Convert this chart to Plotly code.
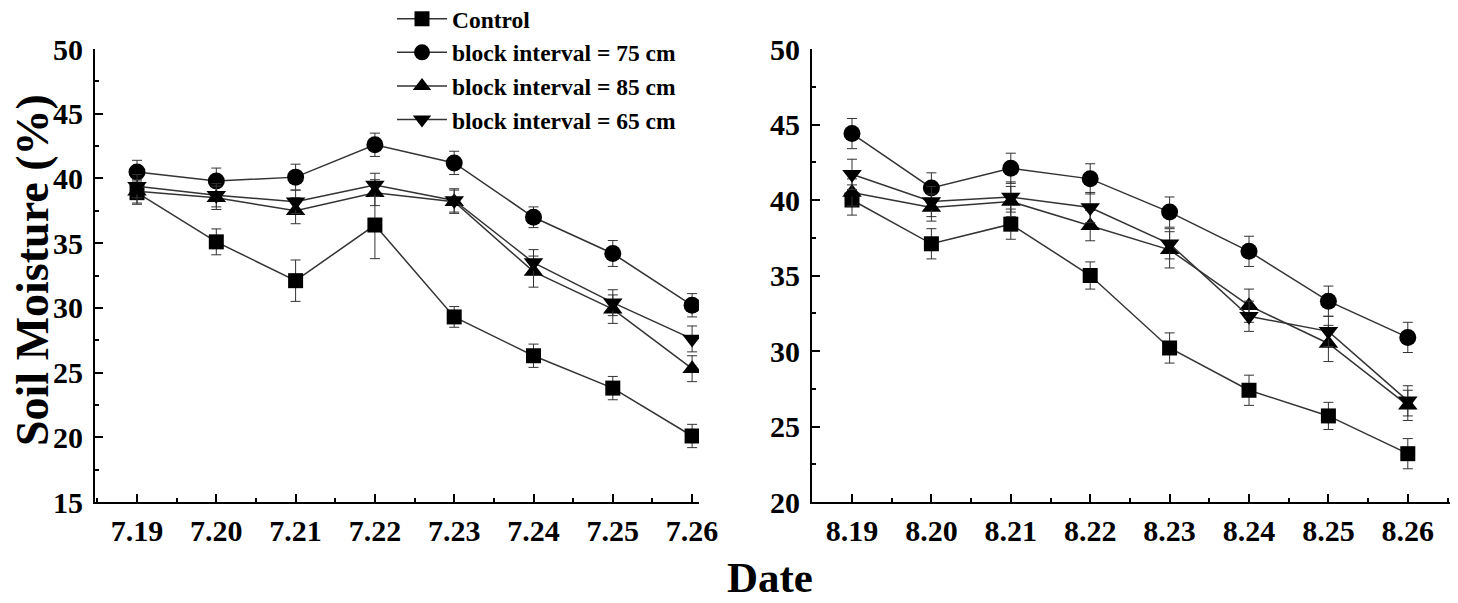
import plotly.graph_objects as go

# Page body adds an 8px offset; figure is sized to fit the 1458x603 window.
OFF = 8
W, H = 1458 - OFF, 603 - OFF

july_dates = ["7.19", "7.20", "7.21", "7.22", "7.23", "7.24", "7.25", "7.26"]
aug_dates = ["8.19", "8.20", "8.21", "8.22", "8.23", "8.24", "8.25", "8.26"]

series_names = ["Control", "block interval = 75 cm", "block interval = 85 cm", "block interval = 65 cm"]
symbols = ["square", "circle", "triangle-up", "triangle-down"]
sizes = [15, 17, 17, 17]

july_control = [38.9, 35.1, 32.1, 36.4, 29.3, 26.3, 23.8, 20.1]
july_control_err = [0.9, 1.0, 1.6, 2.6, 0.8, 0.9, 0.9, 0.9]
july_75 = [40.5, 39.8, 40.1, 42.6, 41.2, 37.0, 34.2, 30.2]
july_75_err = [0.9, 1.0, 1.0, 0.9, 0.9, 0.8, 1.0, 0.9]
july_85 = [39.0, 38.5, 37.5, 38.9, 38.2, 32.8, 29.9, 25.3]
july_85_err = [0.9, 0.9, 1.0, 1.0, 0.9, 1.2, 1.1, 1.0]
july_65 = [39.4, 38.7, 38.2, 39.5, 38.3, 33.5, 30.4, 27.6]
july_65_err = [0.9, 0.9, 0.9, 0.9, 0.9, 1.0, 1.0, 1.0]

aug_control = [40.0, 37.1, 38.4, 35.0, 30.2, 27.4, 25.7, 23.2]
aug_control_err = [1.0, 1.0, 1.0, 0.9, 1.0, 1.0, 0.9, 1.0]
aug_75 = [44.4, 40.8, 42.1, 41.4, 39.2, 36.6, 33.3, 30.9]
aug_75_err = [1.0, 1.0, 1.0, 1.0, 1.0, 1.0, 1.0, 1.0]
aug_85 = [40.5, 39.5, 39.9, 38.3, 36.7, 33.0, 30.5, 26.4]
aug_85_err = [0.9, 0.9, 1.0, 1.0, 1.2, 1.1, 1.2, 1.0]
aug_65 = [41.7, 39.9, 40.2, 39.5, 37.1, 32.3, 31.3, 26.7]
aug_65_err = [1.0, 1.0, 1.0, 1.0, 1.0, 1.0, 1.0, 1.0]

july_vals = [july_control, july_75, july_85, july_65]
july_errs = [july_control_err, july_75_err, july_85_err, july_65_err]
aug_vals = [aug_control, aug_75, aug_85, aug_65]
aug_errs = [aug_control_err, aug_75_err, aug_85_err, aug_65_err]

FONT = "Liberation Serif"
LINE = "#333333"


def px_x(p):
    return (p - OFF) / W


def px_y(p):
    return 1 - (p - OFF) / H


fig = go.Figure()

for i in range(4):
    fig.add_trace(go.Scatter(
        x=list(range(len(july_dates))), y=july_vals[i],
        error_y=dict(type="data", array=july_errs[i], color=LINE, thickness=1, width=5),
        mode="lines+markers", name=series_names[i], legendgroup=str(i),
        line=dict(color=LINE, width=1.5),
        marker=dict(symbol=symbols[i], size=sizes[i], color="black"),
        xaxis="x", yaxis="y", showlegend=True,
    ))
for i in range(4):
    fig.add_trace(go.Scatter(
        x=list(range(len(aug_dates))), y=aug_vals[i],
        error_y=dict(type="data", array=aug_errs[i], color=LINE, thickness=1, width=5),
        mode="lines+markers", name=series_names[i], legendgroup=str(i),
        line=dict(color=LINE, width=1.5),
        marker=dict(symbol=symbols[i], size=sizes[i], color="black"),
        xaxis="x2", yaxis="y2", showlegend=False,
    ))

tickfont = dict(family=FONT, size=30, color="black", weight="bold")


def xaxis(dom, rng, labels, anchor):
    return dict(
        domain=dom, range=rng, anchor=anchor, automargin=False,
        tickvals=list(range(len(labels))), ticktext=labels,
        showline=True, linecolor="black", linewidth=2,
        ticks="inside", ticklen=8, tickwidth=2, tickcolor="black",
        minor=dict(ticks="inside", ticklen=4, tickwidth=2, tickcolor="black", dtick=0.5, tick0=0),
        showgrid=False, zeroline=False, tickfont=tickfont, ticklabelstandoff=1,
    )


def yaxis(rng, anchor):
    return dict(
        domain=[px_y(502), px_y(49)], range=rng, anchor=anchor, automargin=False,
        dtick=5, tick0=0,
        showline=True, linecolor="black", linewidth=2,
        ticks="inside", ticklen=8, tickwidth=2, tickcolor="black",
        minor=dict(ticks="inside", ticklen=4, tickwidth=2, tickcolor="black", dtick=2.5),
        showgrid=False, zeroline=False, tickfont=tickfont, ticklabelstandoff=4,
    )


left_rng = [(95 - 137) / 79.3, (699 - 137) / 79.3]
right_rng = [(812 - 852) / 79.4, (1455 - 852) / 79.4]

fig.update_layout(
    width=W, height=H,
    margin=dict(l=0, r=0, t=0, b=0, autoexpand=False),
    paper_bgcolor="white", plot_bgcolor="white",
    xaxis=xaxis([px_x(95), px_x(699)], left_rng, july_dates, "y"),
    yaxis=yaxis([15, 50], "x"),
    xaxis2=xaxis([px_x(812), px_x(1455)], right_rng, aug_dates, "y2"),
    yaxis2=yaxis([20, 50], "x2"),
    legend=dict(
        x=px_x(392), y=px_y(-3), xanchor="left", yanchor="top",
        font=dict(family=FONT, size=23.5, color="black", weight="bold"),
        bgcolor="rgba(0,0,0,0)", itemwidth=50, tracegroupgap=0,
        traceorder="normal",
    ),
    showlegend=True,
    annotations=[
        dict(text="Soil Moisture (%)", x=px_x(32), y=px_y(270), xref="paper", yref="paper",
             textangle=-90, showarrow=False, xanchor="center", yanchor="middle",
             font=dict(family=FONT, size=46, color="black", weight="bold")),
        dict(text="Date", x=px_x(770), y=px_y(577), xref="paper", yref="paper",
             showarrow=False, xanchor="center", yanchor="middle",
             font=dict(family=FONT, size=43, color="black", weight="bold")),
    ],
)

fig.write_html("out.html")
